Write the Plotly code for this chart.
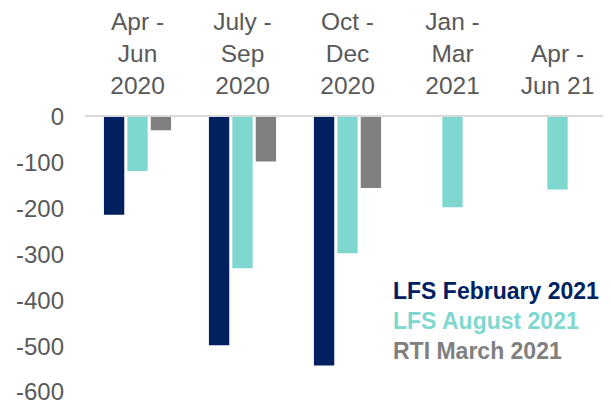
import plotly.graph_objects as go

categories = ["Apr -<br>Jun<br>2020", "July -<br>Sep<br>2020", "Oct -<br>Dec<br>2020", "Jan -<br>Mar<br>2021", "Apr -<br>Jun 21"]
lfs_feb = [-213, -498, -542, None, None]
lfs_aug = [-118, -330, -297, -197, -158]
rti_mar = [-29, -97, -155, None, None]
series_names = ["LFS February 2021", "LFS August 2021", "RTI March 2021"]
colors = ["#002060", "#7fd8d0", "#808080"]
y_ticks = [0, -100, -200, -300, -400, -500, -600]

fig = go.Figure()
for name, vals, col in zip(series_names, [lfs_feb, lfs_aug, rti_mar], colors):
    fig.add_trace(go.Bar(x=categories, y=vals, name=name, marker_color=col,
                         marker_line_width=0, showlegend=False))

OFF = 8  # default page body margin
W, H = 611 - OFF, 405 - OFF
ml, mr, mt, mb = 85 - OFF, 1, 116.5 - OFF, 12.5
pw, ph = W - ml - mr, H - mt - mb
legend_text = "<br>".join(
    f"<span style='color:{c}'><b>{n}</b></span>" for n, c in zip(series_names, colors))
fig.add_annotation(text=legend_text, xref="paper", yref="paper",
                   x=(391 - OFF - ml) / pw, y=1 - (276 - OFF - mt) / ph,
                   xanchor="left", yanchor="top", align="left", showarrow=False,
                   font=dict(size=23, family="Liberation Sans, Arial"))

fig.update_layout(
    width=W, height=H, margin=dict(l=ml, r=mr, t=mt, b=mb),
    paper_bgcolor="white", plot_bgcolor="white",
    barmode="group", bargap=0.331, bargroupgap=0.132,
    font=dict(family="Liberation Sans, Arial", color="#595959"),
    xaxis=dict(side="top", type="category", showline=True, linecolor="#d9d9d9", linewidth=2,
               showgrid=False, tickfont=dict(size=24.5, color="#595959"), ticks="",
               ticklabelstandoff=11, automargin=False),
    yaxis=dict(range=[-600, 0], tickvals=y_ticks, ticktext=[str(v) for v in y_ticks],
               showgrid=False, zeroline=False, showline=False,
               tickfont=dict(size=24, color="#595959"), ticks="", ticklabelstandoff=20,
               ticklabeloverflow="allow", automargin=False),
)
fig.write_html("out.html")
